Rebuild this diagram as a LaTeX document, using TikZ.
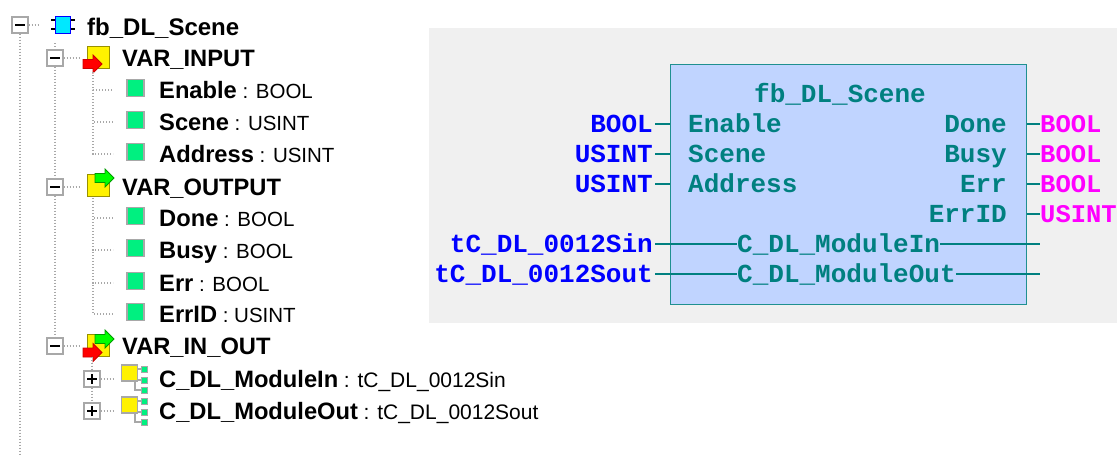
\documentclass[tikz,border=0pt]{standalone}
\usepackage{fontspec}
\setmainfont{Liberation Sans}
\setmonofont{Liberation Mono}
\usepackage{xcolor}
\usetikzlibrary{positioning,calc}
\definecolor{panelgray}{HTML}{F0F0F0}
\definecolor{blockblue}{HTML}{C0D4FF}
\definecolor{blockteal}{HTML}{008080}
\definecolor{blockedge}{HTML}{1F9090}
\definecolor{treegray}{HTML}{A8A8A8}
\definecolor{iconyellow}{HTML}{FFF200}
\definecolor{icongreen}{HTML}{00F080}
\definecolor{typepink}{HTML}{FF00FF}
\definecolor{rootcyan}{HTML}{00E8FF}

\tikzset{
  treeline/.style={dash pattern=on 1.4pt off 1.6pt, line width=1.4pt, treegray},
  expander/.style={draw=treegray, fill=white, line width=1.4pt, minimum size=16pt, inner sep=0pt},
  varicon/.style={draw=treegray, fill=icongreen, line width=1.4pt, minimum size=17pt, inner sep=0pt},
  groupicon/.style={draw=black!40!iconyellow, fill=iconyellow, line width=1pt, minimum size=22pt, inner sep=0pt},
  structicon/.style={draw=treegray, fill=iconyellow, line width=1.4pt, minimum size=16pt, inner sep=0pt},
  treetext/.style={anchor=west, inner sep=0pt, text height=16pt, text depth=0pt, font=\fontsize{20.5}{22}\selectfont},
  pintext/.style={inner sep=0pt, text height=17pt, text depth=0pt, font=\fontsize{26}{28}\selectfont\ttfamily\bfseries},
  blockpin/.style={pintext, text=blockteal},
  typein/.style={pintext, text=blue, anchor=east},
  typeout/.style={pintext, text=typepink, anchor=west, font=\fontsize{25.5}{28}\selectfont\ttfamily\bfseries},
  wire/.style={blockteal, line width=1.4pt},
  pics/redarrow/.style={code={
    \draw[fill=red, draw=red!80!black, line width=0.8pt] (-9.5,-4.5) -- (0.5,-4.5) -- (0.5,-9) -- (9.5,0) -- (0.5,9) -- (0.5,4.5) -- (-9.5,4.5) -- cycle;
  }},
  pics/greenarrow/.style={code={
    \draw[fill=green, draw=green!60!black, line width=0.8pt] (-9.5,-4.5) -- (0.5,-4.5) -- (0.5,-9) -- (9.5,0) -- (0.5,9) -- (0.5,4.5) -- (-9.5,4.5) -- cycle;
  }},
}
\newcommand{\bname}[1]{{\fontsize{23.7}{24}\selectfont\bfseries #1}}

\begin{document}
\begin{tikzpicture}[x=1pt,y=-1pt]
\useasboundingbox (0,0) rectangle (1117,455);

% tree on the left
\coordinate (rootend) at (20,455);
\node[expander] (xroot) at (20,25) {};
\node[expander] (xinput) at (55,58) {};
\node[expander] (xoutput) at (55,187) {};
\node[expander] (xinout) at (55,346) {};
\node[expander] (xstructa) at (92,379) {};
\node[expander] (xstructb) at (92,411) {};
\foreach \n in {xroot,xinput,xoutput,xinout,xstructa,xstructb} {
  \draw[line width=1.5pt] ($(\n)+(-5,0)$) -- ($(\n)+(5,0)$);
}
\foreach \n in {xstructa,xstructb} {
  \draw[line width=1.5pt] ($(\n)+(0,-5)$) -- ($(\n)+(0,5)$);
}
\draw[treeline] (xroot.south) -- (rootend);
\coordinate (levelone) at (55,43);
\draw[treeline] (levelone) -- (xinput.north);
\draw[treeline] (xinput.south) -- (xoutput.north);
\draw[treeline] (xoutput.south) -- (xinout.north);

% root icon
\node[draw=blue, fill=rootcyan, line width=1.4pt, minimum width=15pt, minimum height=17pt, inner sep=0pt] (iconroot) at (63,25) {};
\foreach \s in {-1,1} {
  \foreach \d in {-5,4} {
    \draw[line width=2pt] ($(iconroot)+(\s*8,\d)$) -- ($(iconroot)+(\s*12,\d)$);
  }
}
\coordinate (stubroot) at (40,25);
\draw[treeline] (xroot.east) -- (stubroot);
\node[treetext, font=\fontsize{24}{25}\selectfont\bfseries] (lblroot) at (87,27) {fb\_DL\_Scene};

% variable groups
\node[groupicon] (iconinput) at (98.5,57.5) {};
\pic at (92.5,64) {redarrow};
\node[groupicon] (iconoutput) at (98.5,185.5) {};
\pic at (104.5,178) {greenarrow};
\node[groupicon] (iconinout) at (98.5,345) {};
\pic at (104.5,339) {greenarrow};
\pic at (92.5,352.5) {redarrow};
\coordinate (stubinput) at (80,58);
\coordinate (stuboutput) at (80,187);
\coordinate (stubinout) at (80,346);
\draw[treeline] (xinput.east) -- (stubinput);
\draw[treeline] (xoutput.east) -- (stuboutput);
\draw[treeline] (xinout.east) -- (stubinout);
\node[treetext] (lblinput) at (122,58) {\bname{VAR\_INPUT}};
\node[treetext] (lbloutput) at (122,187) {\bname{VAR\_OUTPUT}};
\node[treetext] (lblinout) at (122,346) {\bname{VAR\_IN\_OUT}};

% variables
\coordinate (spineiconinput) at (93,72);
\coordinate (spineiconoutput) at (93,198);
\foreach \n/\y/\t/\p in {Enable/90/BOOL/iconinput, Scene/122/USINT/iconinput, Address/154/USINT/iconinput,
    Done/218/BOOL/iconoutput, Busy/250/BOOL/iconoutput, Err/283/BOOL/iconoutput, ErrID/314/USINT/iconoutput} {
  \node[varicon] (var\n) at (135.5,\y-2) {};
  \node[treetext] (lbl\n) at (159,\y) {\bname{\n} : \t};
  \coordinate (stub\n) at (113,\y);
  \draw[treeline] (spine\p) |- (stub\n);
}

% structures
\draw[treeline] (iconinout.south -| xstructa) -- (xstructa.north);
\draw[treeline] (xstructa.south) -- (xstructb.north);
\foreach \n/\y/\l/\t in {structa/379/C\_DL\_ModuleIn/tC\_DL\_0012Sin, structb/411/C\_DL\_ModuleOut/tC\_DL\_0012Sout} {
  \foreach \d in {-10,1,11} {
    \coordinate (stem\n) at (135,\y);
    \draw[treegray, line width=1.4pt] (stem\n) |- ($(stem\n)+(9,\d)$);
    \node[draw=treegray, fill=icongreen, line width=1pt, minimum size=6pt, inner sep=0pt] at ($(stem\n)+(9,\d)$) {};
  }
  \node[structicon] (icon\n) at (129.5,\y-6) {};
  \coordinate (stubx\n) at (113,\y);
  \draw[treeline] (x\n.east) -- (stubx\n);
  \node[treetext] (lbl\n) at (159,\y) {\bname{\l} {\fontsize{21}{22}\selectfont : \t}};
}

% function block on the right
\node[fill=panelgray, minimum width=688pt, minimum height=295pt, inner sep=0pt, anchor=north west] (panel) at (429,28) {};
\node[draw=blockedge, fill=blockblue, line width=1.6pt, minimum width=356pt, minimum height=240pt, inner sep=0pt, anchor=north west] (block) at (669.5,63.5) {};
\node[blockpin] (title) at (840,94) {fb\_DL\_Scene};

\foreach \n/\y/\t in {Enable/124/BOOL, Scene/154/USINT, Address/184/USINT} {
  \node[blockpin, anchor=west] (pin\n) at (688,\y) {\n};
  \node[typein] (type\n) at (653,\y) {\t};
  \draw[wire, shorten <=2pt] (type\n.east) -- (type\n.east -| block.west);
}
\foreach \n/\y/\t in {Done/124/BOOL, Busy/154/BOOL, Err/184/BOOL, ErrID/214/USINT} {
  \node[blockpin, anchor=east] (pin\n) at (1007,\y) {\n};
  \node[typeout] (type\n) at (1040,\y) {\t};
  \draw[wire] (pin\n.east -| block.east) -- (type\n.west);
}
\foreach \n/\y/\l/\t in {In/244/C\_DL\_ModuleIn/tC\_DL\_0012Sin, Out/274/C\_DL\_ModuleOut/tC\_DL\_0012Sout} {
  \node[blockpin, anchor=west] (pin\n) at (737,\y) {\l};
  \node[typein] (type\n) at (653,\y) {\t};
  \coordinate (end\n) at (1040,\y);
  \draw[wire, shorten <=2pt] (type\n.east) -- (pin\n.west);
  \draw[wire] (pin\n.east) -- (end\n);
}
\end{tikzpicture}
\end{document}
